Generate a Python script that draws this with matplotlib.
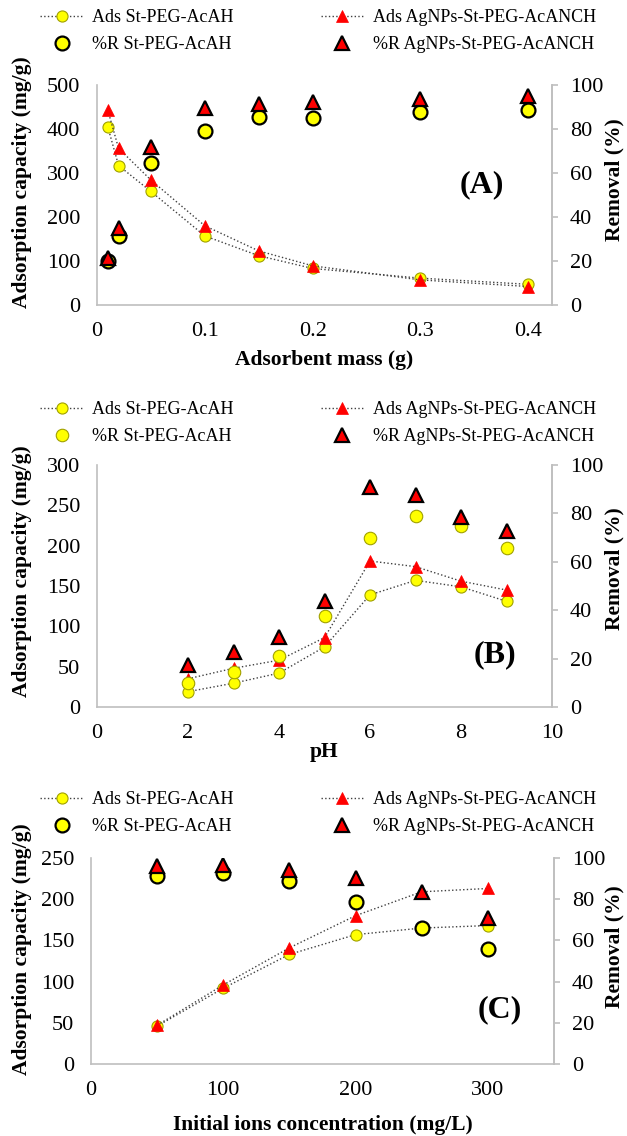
import matplotlib.pyplot as plt
import numpy as np
from matplotlib.ticker import FuncFormatter

plt.rcParams['font.family'] = ['Liberation Serif', 'DejaVu Serif']

# Panel A - adsorbent mass
mass = [0.01, 0.02, 0.05, 0.1, 0.15, 0.2, 0.3, 0.4]
ads_st_A = [405, 317, 258, 157, 112, 83, 61, 47]
ads_ag_A = [443, 356, 284, 180, 123, 89, 57, 42]
rem_st_A = [20, 31.5, 64.5, 79, 85.3, 84.8, 87.5, 88.8]
rem_ag_A = [21.5, 35, 72, 89.7, 91.2, 92.4, 93.6, 95]

# Panel B - pH
ph = [2, 3, 4, 5, 6, 7, 8, 9]
ads_st_B = [19, 29.5, 42, 74.5, 139, 157, 149, 131]
ads_ag_B = [35, 48, 58, 86, 181, 174, 156, 145]
rem_st_B = [10.1, 14.6, 21, 37.4, 70, 78.8, 74.8, 65.8]
rem_ag_B = [17.3, 22.8, 29, 44, 90.8, 87.7, 78.5, 72.7]

# Panel C - initial concentration
conc = [50, 100, 150, 200, 250, 300]
ads_st_C = [46, 92, 133, 157, 165, 168]
ads_ag_C = [47, 96, 141, 180, 209, 213]
rem_st_C = [91.5, 92.8, 89, 78.8, 66, 56]
rem_ag_C = [96, 96.4, 94.3, 90.5, 83.7, 71]

labels = ['Ads St-PEG-AcAH', 'Ads AgNPs-St-PEG-AcANCH',
          '%R St-PEG-AcAH', '%R AgNPs-St-PEG-AcANCH']

W, H = 627, 1136
fig = plt.figure(figsize=(W / 100, H / 100), dpi=100)

grey = '#bfbfbf'
fmt = FuncFormatter(lambda v, p: ('%g' % round(v, 3)))


def panel(rect, x, a1, a2, r1, r2, xlim, xticks, ylim, ystep, xlabel, tag, tagpos,
          leg_y, xlab_y, r1_black=True):
    l, t, r, b = rect
    ax = fig.add_axes([l / W, 1 - b / H, (r - l) / W, (b - t) / H])
    ax2 = ax.twinx()
    h1, = ax.plot(x, a1, ls=':', color='#404040', lw=1, marker='o', ms=8,
                  mfc='#ffff00', mec='#a0a000', mew=0.8)
    h2, = ax.plot(x, a2, ls=':', color='#404040', lw=1, marker='^', ms=9,
                  mfc='#ff0000', mec='#ff0000', mew=0.5)
    if r1_black:
        h3, = ax2.plot(x, r1, ls='none', marker='o', ms=10, mfc='#ffff00',
                       mec='black', mew=1.6)
    else:
        h3, = ax2.plot(x, r1, ls='none', marker='o', ms=9, mfc='#ffff00',
                       mec='#a0a000', mew=0.8)
    h4, = ax2.plot(x, r2, ls='none', marker='^', ms=10, mfc='#ff0000',
                   mec='black', mew=1.6)

    ax.set_xlim(*xlim)
    ax.set_xticks(xticks)
    ax.xaxis.set_major_formatter(fmt)
    ax.set_ylim(*ylim)
    ax.set_yticks(np.arange(ylim[0], ylim[1] + 1, ystep))
    ax2.set_ylim(0, 100)
    ax2.set_yticks(np.arange(0, 101, 20))
    for a in (ax, ax2):
        a.spines['top'].set_visible(False)
        for s in ('left', 'bottom', 'right'):
            a.spines[s].set_color(grey)
            a.spines[s].set_linewidth(1.2)
    ax2.spines['left'].set_visible(False)
    ax2.spines['bottom'].set_visible(False)
    ax.tick_params(axis='y', length=0, labelsize=16, pad=12)
    ax.tick_params(axis='x', length=0, labelsize=16, pad=12)
    ax2.tick_params(axis='y', direction='out', length=4, width=1.2, color=grey,
                    labelsize=16, pad=9)

    ax.set_ylabel('Adsorption capacity (mg/g)', fontsize=15.5, fontweight='bold')
    ax.yaxis.set_label_coords((32 - l) / (r - l), 0.56)
    ax2.set_ylabel('Removal (%)', fontsize=15.5, fontweight='bold')
    ax2.yaxis.set_label_coords((604 - l) / (r - l), 0.57)
    fig.text(((l + r) / 2) / W, 1 - xlab_y / H, xlabel, ha='center', va='center',
             fontsize=15.5, fontweight='bold')
    fig.text(tagpos[0] / W, 1 - tagpos[1] / H, tag, ha='center', va='center',
             fontsize=23, fontweight='bold')

    fig.legend([h1, h3, h2, h4], [labels[0], labels[2], labels[1], labels[3]],
               loc='center', bbox_to_anchor=(318 / W, 1 - leg_y / H), ncol=2,
               frameon=False, fontsize=13, handlelength=2.4, handletextpad=0.5,
               columnspacing=4.8, labelspacing=0.55, borderaxespad=0)
    return ax, ax2


panel((97, 85, 552, 305), mass, ads_st_A, ads_ag_A, rem_st_A, rem_ag_A,
      (0, 0.422), [0, 0.1, 0.2, 0.3, 0.4], (0, 500), 100,
      'Adsorbent mass (g)', '(A)', (482, 185), 31, 360)
panel((97, 465, 552, 707), ph, ads_st_B, ads_ag_B, rem_st_B, rem_ag_B,
      (0, 10), [0, 2, 4, 6, 8, 10], (0, 300), 50,
      'pH', '(B)', (495, 655), 423, 752, r1_black=False)
panel((91, 858, 554, 1064), conc, ads_st_C, ads_ag_C, rem_st_C, rem_ag_C,
      (0, 350), [0, 100, 200, 300], (0, 250), 50,
      'Initial ions concentration (mg/L)', '(C)', (500, 1010), 813, 1125)

fig.savefig('out.png', dpi=100)
